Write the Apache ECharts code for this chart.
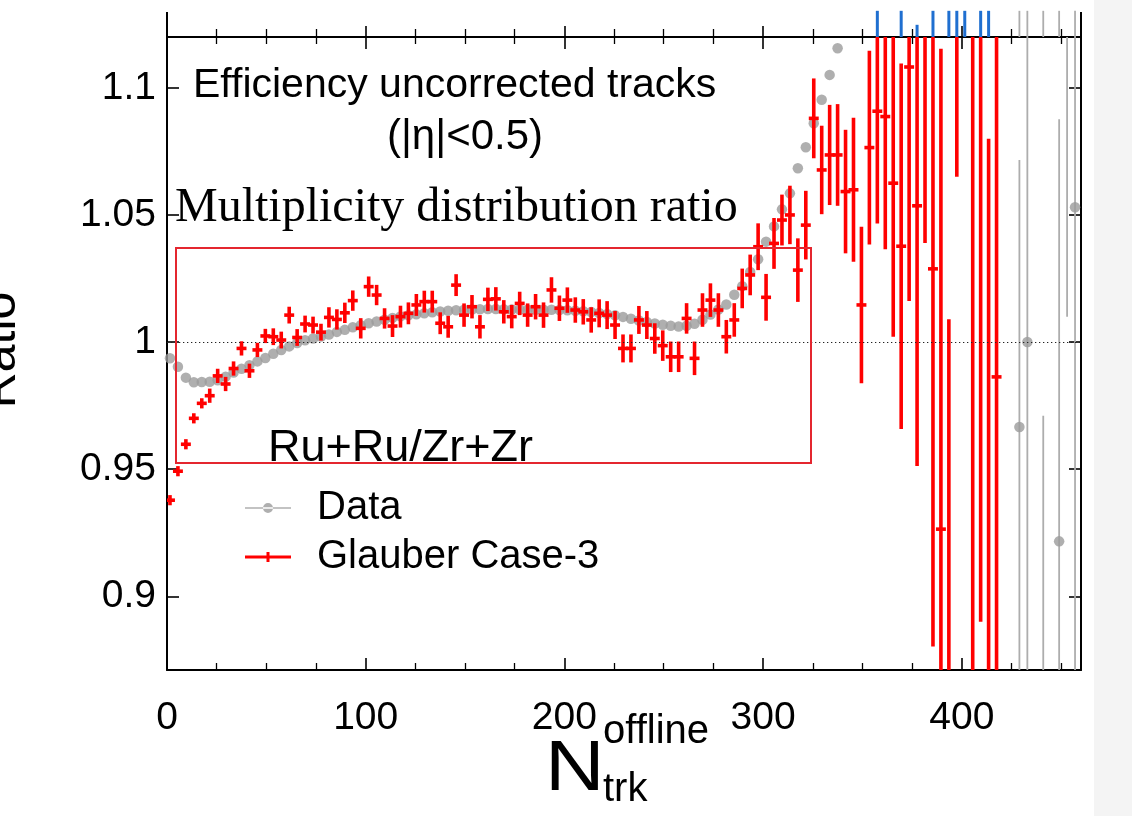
<!DOCTYPE html>
<html>
<head>
<meta charset="utf-8">
<script src="https://cdn.jsdelivr.net/npm/echarts@6/dist/echarts.min.js"></script>
<style>
  html, body { margin: 0; padding: 0; background: #ffffff; }
  #chart { width: 1132px; height: 816px; }
</style>
</head>
<body>
<div id="chart"></div>
<script>
// ---- Measured data: Ru+Ru / Zr+Zr multiplicity ratio ----

// Data (gray dots), bin centres and ratio values
const dataX = [1.5,5.5,9.5,13.5,17.5,21.5,25.5,29.5,33.5,37.5,
  41.5,45.5,49.5,53.5,57.5,61.5,65.5,69.5,73.5,77.5,
  81.5,85.5,89.5,93.5,97.5,101.5,105.5,109.5,113.5,117.5,
  121.5,125.5,129.5,133.5,137.5,141.5,145.5,149.5,153.5,157.5,
  161.5,165.5,169.5,173.5,177.5,181.5,185.5,189.5,193.5,197.5,
  201.5,205.5,209.5,213.5,217.5,221.5,225.5,229.5,233.5,237.5,
  241.5,245.5,249.5,253.5,257.5,261.5,265.5,269.5,273.5,277.5,
  281.5,285.5,289.5,293.5,297.5,301.5,305.5,309.5,313.5,317.5,
  321.5,325.5,329.5,333.5,337.5];
const dataY = [0.9936,0.9903,0.9860,0.9842,0.9843,0.9844,0.9850,0.9864,0.9880,0.9895,
  0.9909,0.9924,0.9937,0.9954,0.9969,0.9983,0.9996,1.0007,1.0014,1.0022,
  1.0030,1.0040,1.0048,1.0058,1.0066,1.0074,1.0081,1.0088,1.0095,1.0101,
  1.0105,1.0109,1.0113,1.0117,1.0120,1.0123,1.0125,1.0127,1.0128,1.0129,
  1.0130,1.0130,1.0129,1.0128,1.0128,1.0127,1.0127,1.0127,1.0127,1.0126,
  1.0125,1.0123,1.0121,1.0118,1.0114,1.0110,1.0105,1.0099,1.0092,1.0085,
  1.0079,1.0073,1.0068,1.0064,1.0061,1.0064,1.0072,1.0088,1.0108,1.0128,
  1.0148,1.0186,1.0220,1.0276,1.0326,1.0395,1.0455,1.0522,1.0585,1.0684,
  1.0766,1.0861,1.0953,1.1051,1.1156];

// Data, high-multiplicity tail with large statistical errors
const dataTailX   = [429, 433, 441, 449, 453, 457];
const dataTailY   = [0.9666, 1.0000, 0.8000, 0.9216, 1.2000, 1.0530];
const dataTailErr = [0.105, 0.160, 0.171, 0.166, 0.190, 0.200];

// Glauber Case-3 (red crosses): bin centres, ratio and error
const glauberX = [1.5,5.5,9.5,13.5,17.5,21.5,25.5,29.5,33.5,37.5,
  41.5,45.5,49.5,53.5,57.5,61.5,65.5,69.5,73.5,77.5,
  81.5,85.5,89.5,93.5,97.5,101.5,105.5,109.5,113.5,117.5,
  121.5,125.5,129.5,133.5,137.5,141.5,145.5,149.5,153.5,157.5,
  161.5,165.5,169.5,173.5,177.5,181.5,185.5,189.5,193.5,197.5,
  201.5,205.5,209.5,213.5,217.5,221.5,225.5,229.5,233.5,237.5,
  241.5,245.5,249.5,253.5,257.5,261.5,265.5,269.5,273.5,277.5,
  281.5,285.5,289.5,293.5,297.5,301.5,305.5,309.5,313.5,317.5,
  321.5,325.5,329.5,333.5,337.5,341.5,345.5,349.5,353.5,357.5,
  361.5,365.5,369.5,373.5,377.5,381.5,385.5,389.5,393.5,397.5,
  405.5,409.5,413.5,417.5];
const glauberY = [0.9378,0.9492,0.9598,0.9700,0.9759,0.9789,0.9867,0.9835,0.9896,0.9975,
  0.9887,0.9969,1.0024,1.0021,1.0008,1.0106,1.0018,1.0071,1.0067,1.0039,
  1.0097,1.0089,1.0115,1.0163,1.0054,1.0218,1.0185,1.0093,1.0063,1.0100,
  1.0113,1.0146,1.0159,1.0159,1.0074,1.0060,1.0224,1.0106,1.0139,1.0060,
  1.0168,1.0170,1.0119,1.0100,1.0152,1.0106,1.0139,1.0106,1.0205,1.0133,
  1.0165,1.0126,1.0119,1.0087,1.0113,1.0106,1.0067,0.9975,0.9975,1.0087,
  1.0067,1.0014,0.9986,0.9942,0.9942,1.0093,0.9936,1.0126,1.0165,1.0126,
  1.0021,1.0087,1.0211,1.0264,1.0375,1.0176,1.0388,1.0480,1.0500,1.0283,
  1.0460,1.0880,1.0677,1.0736,1.0736,1.0592,1.0599,1.0146,1.0765,1.0908,
  1.0887,1.0625,1.0377,1.1082,1.0536,1.1540,1.0288,0.9264,0.8090,1.2850,
  0.8500,1.1600,0.8000,0.9863];
const glauberErr = [0.0020,0.0020,0.0020,0.0020,0.0020,0.0028,0.0028,0.0028,0.0028,0.0028,
  0.0028,0.0028,0.0028,0.0033,0.0033,0.0033,0.0033,0.0033,0.0033,0.0033,
  0.0040,0.0040,0.0040,0.0040,0.0040,0.0040,0.0040,0.0040,0.0043,0.0043,
  0.0043,0.0043,0.0043,0.0043,0.0043,0.0043,0.0043,0.0046,0.0046,0.0046,
  0.0046,0.0046,0.0046,0.0046,0.0046,0.0046,0.0050,0.0050,0.0050,0.0050,
  0.0050,0.0050,0.0050,0.0050,0.0055,0.0055,0.0055,0.0055,0.0055,0.0055,
  0.0055,0.0060,0.0060,0.0060,0.0060,0.0060,0.0066,0.0066,0.0066,0.0066,
  0.0066,0.0066,0.0078,0.0080,0.0092,0.0092,0.0100,0.0100,0.0115,0.0125,
  0.0135,0.0157,0.0174,0.0197,0.0200,0.0243,0.0283,0.0308,0.0381,0.0442,
  0.0522,0.0604,0.0719,0.0920,0.1024,0.1150,0.1486,0.1890,0.2000,0.2200,
  0.3000,0.2700,0.2800,0.3000];

// Error bars of the neighbouring panel that reach down to this frame
const upperBlueX   = [357.5, 369.5, 377.5, 385.5, 393.5, 397.5, 401.5, 409.5, 413.5];
const upperBlueTop = [1.1303, 1.1303, 1.1248, 1.1303, 1.1303, 1.1303, 1.1303, 1.1303, 1.1303];
const upperGrayX   = [429, 433, 441, 449, 457];

// Axis tick labels
const xTickInterval = 100;
const yTickValues = [0.9, 0.95, 1, 1.05, 1.1];

// ---- Drawing ----
const SANS = '"Liberation Sans", Arial, Helvetica, sans-serif';
const SERIF = '"Liberation Serif", "Times New Roman", serif';
const X_MIN = 0, X_MAX = 460, Y_MIN = 0.871, Y_MAX = 1.12, Y_STRIP_TOP = 1.1303;
const BIN_HALF = 2;
const RED = '#ff0000';
const GRAY_DOT = '#9b9b9b';
const GRAY_BAR = '#adadad';
const BLUE = '#1f6fd0';

const zip = (...cols) => cols[0].map((_, i) => cols.map(c => c[i]));

const chart = echarts.init(document.getElementById('chart'), null, { renderer: 'canvas' });

const frameLine = { show: true, onZero: false, lineStyle: { color: '#000', width: 2 } };

function xAxisCfg(position, inside, majorLen, minorLen, showLabel) {
  return {
    type: 'value', position: position, min: X_MIN, max: X_MAX, interval: xTickInterval,
    axisLine: frameLine,
    axisTick: { show: true, inside: inside, length: majorLen, lineStyle: { color: '#000', width: 1.6 } },
    minorTick: { show: true, splitNumber: 4, length: minorLen, lineStyle: { color: '#000', width: 1.3 } },
    axisLabel: showLabel ? {
      show: true, showMaxLabel: false, margin: 29, color: '#000', fontSize: 39, fontFamily: SANS
    } : { show: false },
    splitLine: { show: false }, minorSplitLine: { show: false }
  };
}

function yAxisCfg(position, showLabel) {
  return {
    type: 'value', position: position, min: Y_MIN, max: Y_MAX,
    axisLine: frameLine,
    axisTick: { show: true, inside: true, length: 12, customValues: yTickValues,
                lineStyle: { color: '#000', width: 1.6 } },
    axisLabel: showLabel ? {
      show: true, customValues: yTickValues, margin: 11, color: '#000', fontSize: 39, fontFamily: SANS,
      formatter: v => String(+(+v).toFixed(2))
    } : { show: false },
    splitLine: { show: false }
  };
}

// Vertical error bar (and optional horizontal bin-width bar) for one point
function crossRenderer(color, width, withBinBar) {
  return function (params, api) {
    const x = api.value(0), y = api.value(1), e = api.value(2);
    const c = api.coord([x, y]);
    const top = api.coord([x, y + e]);
    const bot = api.coord([x, y - e]);
    const children = [{
      type: 'line',
      shape: { x1: c[0], y1: top[1], x2: c[0], y2: bot[1] },
      style: { stroke: color, lineWidth: width }
    }];
    if (withBinBar) {
      const l = api.coord([x - BIN_HALF, y]);
      const r = api.coord([x + BIN_HALF, y]);
      children.push({
        type: 'line',
        shape: { x1: l[0] - 1, y1: c[1], x2: r[0] + 1, y2: c[1] },
        style: { stroke: color, lineWidth: width }
      });
    }
    return { type: 'group', children: children };
  };
}

const stripData = upperBlueX.map((x, i) => [x, upperBlueTop[i], 0])
  .concat(upperGrayX.map(x => [x, Y_STRIP_TOP, 1]));

const option = {
  animation: false,
  backgroundColor: '#ffffff',
  grid: { left: 167, right: 51, top: 37, bottom: 146, containLabel: false },
  xAxis: [
    xAxisCfg('bottom', true, 12, 7, true),
    xAxisCfg('top', true, 12, 7, false),
    xAxisCfg('top', false, 11, 8, false)
  ],
  yAxis: [yAxisCfg('left', true), yAxisCfg('right', false)],
  legend: {
    orient: 'vertical', left: 245, top: 488, itemGap: 9, padding: 0,
    itemWidth: 46, itemHeight: 10, selectedMode: false,
    textStyle: { color: '#000', fontSize: 40, fontFamily: SANS, padding: [0, 0, 0, 21] },
    data: [
      { name: 'Data', icon: 'path://M0,4.3h46v1.4H0z M18,5a5,5 0 1,0 10,0a5,5 0 1,0 -10,0z' },
      { name: 'Glauber Case-3', icon: 'path://M0,3.6h46v2.8H0z M21.5,0h3v10h-3z' }
    ]
  },
  series: [
    {
      name: 'Data', type: 'scatter', xAxisIndex: 0, yAxisIndex: 0, clip: true, z: 2,
      symbol: 'circle', symbolSize: 10.5,
      itemStyle: { color: GRAY_DOT },
      data: zip(dataX, dataY).concat(zip(dataTailX, dataTailY)),
      markLine: {
        silent: true, symbol: 'none', animation: false,
        label: { show: false },
        lineStyle: { color: '#222', type: [1.3, 2.7], width: 1.2 },
        data: [{ yAxis: 1 }]
      }
    },
    {
      name: 'Data', type: 'custom', xAxisIndex: 0, yAxisIndex: 0, clip: true, z: 2,
      renderItem: crossRenderer(GRAY_BAR, 1.8, false),
      data: zip(dataTailX, dataTailY, dataTailErr)
    },
    {
      name: 'Glauber Case-3', type: 'custom', xAxisIndex: 0, yAxisIndex: 0, clip: true, z: 3,
      itemStyle: { color: RED },
      renderItem: crossRenderer(RED, 3.6, true),
      data: zip(glauberX, glauberY, glauberErr)
    },
    {
      name: 'upper panel', type: 'custom', xAxisIndex: 0, yAxisIndex: 0, clip: false, z: 1, silent: true,
      renderItem: function (params, api) {
        const x = api.value(0), top = api.value(1), kind = api.value(2);
        const p1 = api.coord([x, Y_MAX]);
        const p2 = api.coord([x, top]);
        return {
          type: 'line',
          shape: { x1: p1[0], y1: p1[1], x2: p2[0], y2: p2[1] },
          style: { stroke: kind === 0 ? BLUE : GRAY_BAR, lineWidth: kind === 0 ? 3 : 1.8 }
        };
      },
      data: stripData
    }
  ],
  graphic: [
    { type: 'rect', z: -10, shape: { x: 1094, y: 0, width: 38, height: 816 }, style: { fill: '#f4f4f4' } },
    { type: 'line', z: 5, shape: { x1: 167, y1: 12, x2: 167, y2: 38 }, style: { stroke: '#000', lineWidth: 2 } },
    { type: 'line', z: 5, shape: { x1: 1081, y1: 12, x2: 1081, y2: 38 }, style: { stroke: '#000', lineWidth: 2 } },
    { type: 'text', z: 5, x: 193, y: 86,
      style: { text: 'Efficiency uncorrected tracks', font: '41px ' + SANS, fill: '#000',
               align: 'left', textAlign: 'left', verticalAlign: 'middle', textVerticalAlign: 'middle' } },
    { type: 'text', z: 5, x: 465, y: 137,
      style: { text: '(|η|<0.5)', font: '42px ' + SANS, fill: '#000',
               align: 'center', textAlign: 'center', verticalAlign: 'middle', textVerticalAlign: 'middle' } },
    { type: 'text', z: 5, x: 175, y: 208,
      style: { text: 'Multiplicity distribution ratio', font: '48px ' + SERIF, fill: '#000',
               align: 'left', textAlign: 'left', verticalAlign: 'middle', textVerticalAlign: 'middle' } },
    { type: 'text', z: 5, x: 268, y: 449,
      style: { text: 'Ru+Ru/Zr+Zr', font: '45px ' + SANS, fill: '#000',
               align: 'left', textAlign: 'left', verticalAlign: 'middle', textVerticalAlign: 'middle' } },
    { type: 'rect', z: 20, shape: { x: 176, y: 248, width: 635, height: 215 },
      style: { fill: 'none', stroke: '#e4262f', lineWidth: 2 } },
    { type: 'text', z: 5, x: 1, y: 350, rotation: Math.PI / 2,
      style: { text: 'Ratio', font: '50px ' + SANS, fill: '#000',
               align: 'center', textAlign: 'center', verticalAlign: 'middle', textVerticalAlign: 'middle' } },
    { type: 'text', z: 5, x: 545, y: 771, scaleX: 1.18,
      style: { text: 'N', font: '70px ' + SANS, fill: '#000',
               align: 'left', textAlign: 'left', verticalAlign: 'middle', textVerticalAlign: 'middle' } },
    { type: 'text', z: 5, x: 603, y: 732,
      style: { text: 'offline', font: '40px ' + SANS, fill: '#000',
               align: 'left', textAlign: 'left', verticalAlign: 'middle', textVerticalAlign: 'middle' } },
    { type: 'text', z: 5, x: 603, y: 790,
      style: { text: 'trk', font: '40px ' + SANS, fill: '#000',
               align: 'left', textAlign: 'left', verticalAlign: 'middle', textVerticalAlign: 'middle' } }
  ]
};

chart.setOption(option);
</script>
</body>
</html>
